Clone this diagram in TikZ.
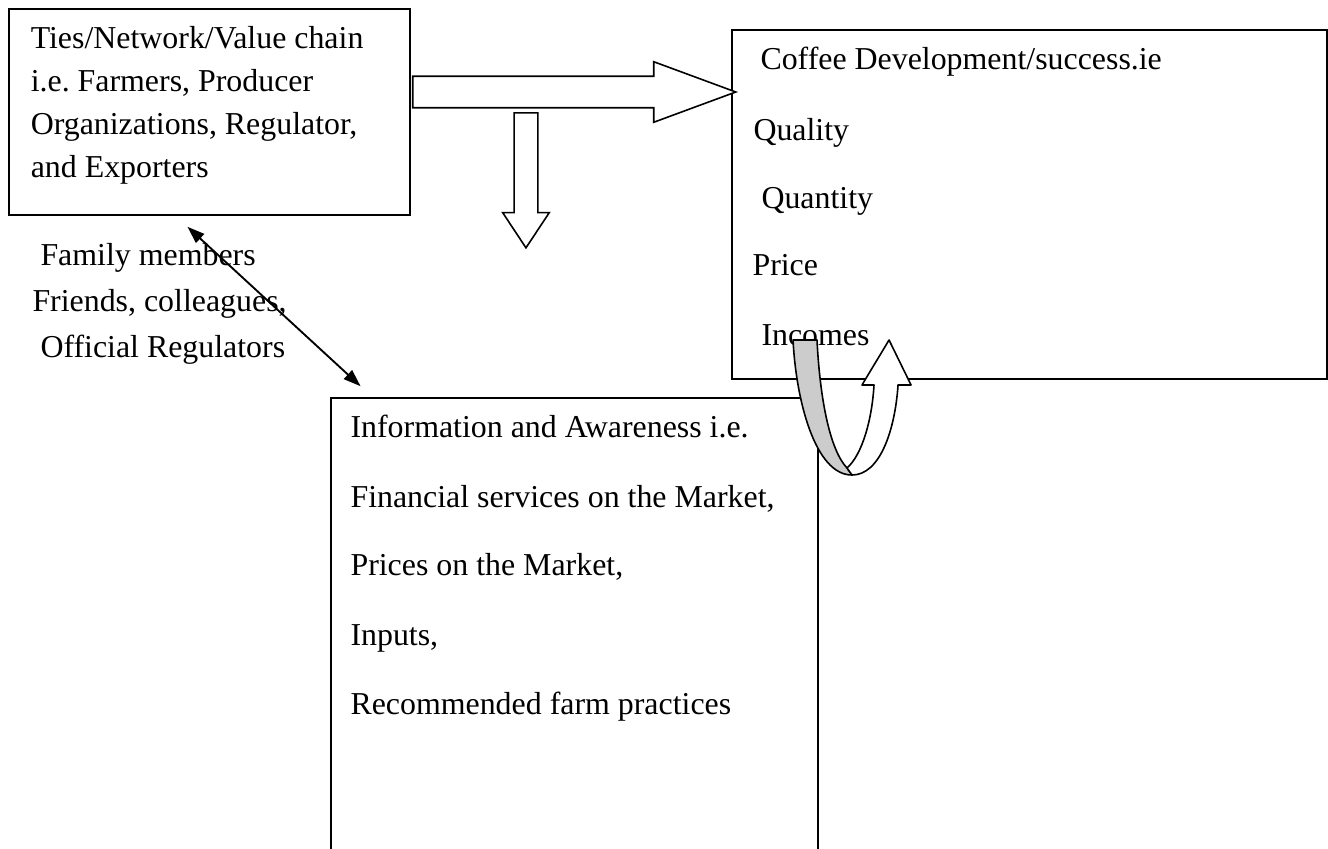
\documentclass[tikz,border=0pt]{standalone}
\usepackage{fontspec}
\setmainfont{Liberation Serif}
\usepackage{tikz}
\usetikzlibrary{arrows.meta,shapes.arrows}

\tikzset{
  box/.style={draw, line width=0.75pt, anchor=north west, inner sep=0pt},
  txt/.style={anchor=base west, inner sep=0pt, font=\fontsize{12}{14}\selectfont},
  blockarrow/.style={single arrow, draw, fill=white, line width=0.6pt, anchor=tail, inner xsep=0pt},
  uturn/.style={draw, line width=0.6pt, line join=round},
  tip/.tip={Triangle[length=6.5pt,width=4.5pt]},
}

\begin{document}
\begin{tikzpicture}
\useasboundingbox (0cm,0cm) rectangle (17.568cm,-11.231cm);

% the three boxes (info runs off the bottom of the page)
\node[box, minimum width=5.305cm, minimum height=2.725cm] (ties) at (0.106cm,-0.106cm) {};
\node[box, minimum width=7.871cm, minimum height=4.617cm] (coffee) at (9.670cm,-0.384cm) {};
\node[box, minimum width=6.443cm, minimum height=6.35cm] (info) at (4.366cm,-5.252cm) {};

% ties
\node[txt] (t1) at (0.40cm,-0.635cm) {Ties/Network/Value chain};
\node[txt] (t2) at (0.40cm,-1.204cm) {i.e.\ Farmers, Producer};
\node[txt] (t3) at (0.40cm,-1.773cm) {Organizations, Regulator,};
\node[txt] (t4) at (0.40cm,-2.342cm) {and Exporters};

% family
\node[txt] (f1) at (0.529cm,-3.506cm) {Family members};
\node[txt] (f2) at (0.423cm,-4.127cm) {Friends, colleagues,};
\node[txt] (f3) at (0.529cm,-4.723cm) {Official Regulators};

% coffee
\node[txt] (c1) at (10.054cm,-0.913cm) {Coffee Development/success.ie};
\node[txt] (c2) at (9.961cm,-1.852cm) {Quality};
\node[txt] (c3) at (10.067cm,-2.752cm) {Quantity};
\node[txt] (c4) at (9.948cm,-3.651cm) {Price};
\node[txt] (c5) at (10.067cm,-4.564cm) {Incomes};

% info
\node[txt] (i1) at (4.630cm,-5.794cm) {Information and Awareness i.e.};
\node[txt] (i2) at (4.630cm,-6.707cm) {Financial services on the Market,};
\node[txt] (i3) at (4.630cm,-7.607cm) {Prices on the Market,};
\node[txt] (i4) at (4.630cm,-8.533cm) {Inputs,};
\node[txt] (i5) at (4.630cm,-9.446cm) {Recommended farm practices};

% block arrows
\node[blockarrow, minimum height=4.273cm, minimum width=0.781cm, inner ysep=0.198cm,
      single arrow head extend=0.192cm, single arrow tip angle=40.5] (flow) at (5.450cm,-1.217cm) {};
\node[blockarrow, rotate=-90, minimum height=1.786cm, minimum width=0.595cm, inner ysep=0.146cm,
      single arrow head extend=0.152cm, single arrow tip angle=67] (down) at (6.958cm,-1.482cm) {};

\draw[tip-tip, line width=0.7pt, shorten <=6pt, shorten >=6pt] (ties.252) -- (info.130);

% u-turn arrow over the coffee box
\filldraw[uturn, fill=gray!40] (10.491cm,-4.498cm) -- (10.808cm,-4.498cm)
  .. controls (10.848cm,-5.292cm) and (10.980cm,-5.953cm) .. (11.205cm,-6.191cm)
  -- (11.271cm,-6.284cm)
  .. controls (10.782cm,-6.284cm) and (10.530cm,-5.292cm) .. (10.491cm,-4.498cm) -- cycle;
\filldraw[uturn, fill=white] (11.205cm,-6.191cm)
  .. controls (11.403cm,-6.019cm) and (11.536cm,-5.556cm) .. (11.562cm,-5.093cm)
  -- (11.403cm,-5.093cm) -- (11.761cm,-4.498cm) -- (12.052cm,-5.093cm) -- (11.880cm,-5.093cm)
  .. controls (11.840cm,-5.688cm) and (11.642cm,-6.284cm) .. (11.271cm,-6.284cm) -- cycle;
\end{tikzpicture}
\end{document}
